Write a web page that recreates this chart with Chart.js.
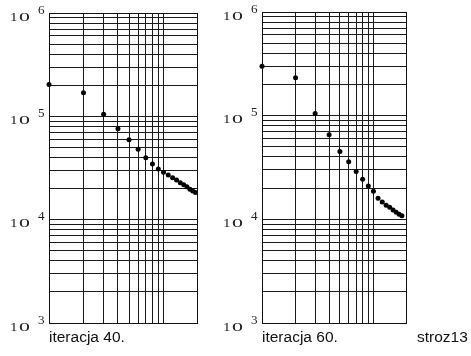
<!DOCTYPE html>
<html>
<head>
<meta charset="utf-8">
<script src="https://cdn.jsdelivr.net/npm/chart.js@4.4.1/dist/chart.umd.min.js"></script>
<style>
  html, body { margin: 0; padding: 0; background: #fff; }
  #wrap { position: relative; width: 471px; height: 356px; background: #fff; }
  #wrap canvas { position: absolute; left: 0; top: 0; }
</style>
</head>
<body>
<div id="wrap">
  <canvas id="left" width="471" height="356"></canvas>
  <canvas id="right" width="471" height="356"></canvas>
</div>
<script>
// iteration index (log x) and residual value (log y) for each run
const iterLeft  = [1,2,3,4,5,6,7,8,9,10,11,12,13,14,15,16,17,18,19];
const errLeft   = [203000,169000,104500,76000,59500,47900,39800,34500,30900,28800,
                   27000,25500,24200,22800,21800,20800,19700,18900,18300];
const iterRight = [1,2,3,4,5,6,7,8,9,10,11,12,13,14,15,16,17,18];
const errRight  = [300000,232000,105000,65500,45100,35900,28900,24400,21000,18700,
                   16000,14700,13700,13100,12300,11700,11200,10800];

// grid positions
const xGrid = [1,2,3,4,5,6,7,8,9,10];
const yDecades = [3,4,5,6];
const yMantissas = [1,2,3,4,5,6,7,8,9];

const captionLeft = "iteracja 40.";
const captionRight = "iteracja 60.";
const footnote = "stroz13";

const xMin = 1, xMax = 19.6, yMin = 1e3, yMax = 1e6;

function yGridValues() {
  const out = [];
  yDecades.forEach(e => {
    if (e === yDecades[yDecades.length - 1]) { out.push(Math.pow(10, e)); return; }
    yMantissas.forEach(m => out.push(m * Math.pow(10, e)));
  });
  return out;
}

// draws the frame, the 10^n labels and the captions
function decoPlugin(opts) {
  return {
    id: 'deco',
    afterDraw(chart) {
      const ctx = chart.ctx;
      const a = chart.chartArea;
      const ys = chart.scales.y;
      ctx.save();
      ctx.strokeStyle = '#111';
      ctx.lineWidth = 1;
      ctx.strokeRect(Math.round(a.left) + 0.5, Math.round(a.top) + 0.5,
                     Math.round(a.right - a.left), Math.round(a.bottom - a.top));

      ctx.fillStyle = '#222';
      ctx.textBaseline = 'alphabetic';
      yDecades.forEach(e => {
        const py = ys.getPixelForValue(Math.pow(10, e));
        const x0 = a.left - 39;
        ctx.font = '12.5px "Liberation Serif"';
        // base "10"
        ctx.save();
        ctx.translate(x0, py + 7.5);
        ctx.scale(1.2, 1);
        ctx.fillText('1', 0, 0);
        ctx.restore();
        ctx.save();
        ctx.translate(x0 + 9, py + 7.5);
        ctx.scale(1.75, 1);
        ctx.fillText('0', 0, 0);
        ctx.restore();
        // exponent
        ctx.save();
        ctx.translate(a.left - 11, py + 0.5);
        ctx.scale(1.05, 1);
        ctx.fillText(String(e), 0, 0);
        ctx.restore();
      });

      ctx.font = '15.5px "Liberation Sans"';
      ctx.fillStyle = '#111';
      ctx.fillText(opts.caption, a.left, 342);
      if (opts.footnote) ctx.fillText(opts.footnote, 417, 342);
      ctx.restore();
    }
  };
}

function makeChart(id, xs, ys, pad, opts) {
  const points = xs.map((x, i) => ({ x: x, y: ys[i] }));
  return new Chart(document.getElementById(id), {
    type: 'scatter',
    data: {
      datasets: [{
        data: points,
        showLine: false,
        pointRadius: 2.5,
        pointHoverRadius: 2.5,
        pointBackgroundColor: '#000',
        pointBorderWidth: 0,
        clip: false
      }]
    },
    options: {
      responsive: false,
      animation: false,
      events: [],
      layout: { padding: pad },
      plugins: { legend: { display: false }, tooltip: { enabled: false }, title: { display: false } },
      scales: {
        x: {
          type: 'logarithmic',
          min: xMin, max: xMax,
          afterBuildTicks(s) { s.ticks = xGrid.map(v => ({ value: v })); },
          ticks: { display: false },
          grid: { color: '#1a1a1a', lineWidth: 1, drawTicks: false },
          border: { display: false }
        },
        y: {
          type: 'logarithmic',
          min: yMin, max: yMax,
          afterBuildTicks(s) { s.ticks = yGridValues().map(v => ({ value: v })); },
          ticks: { display: false },
          grid: { color: '#1a1a1a', lineWidth: 1, drawTicks: false },
          border: { display: false }
        }
      }
    },
    plugins: [decoPlugin(opts)]
  });
}

makeChart('left', iterLeft, errLeft,
  { left: 49, top: 13, right: 274, bottom: 33 },
  { caption: captionLeft });
makeChart('right', iterRight, errRight,
  { left: 262, top: 12, right: 65, bottom: 33 },
  { caption: captionRight, footnote: footnote });
</script>
</body>
</html>
